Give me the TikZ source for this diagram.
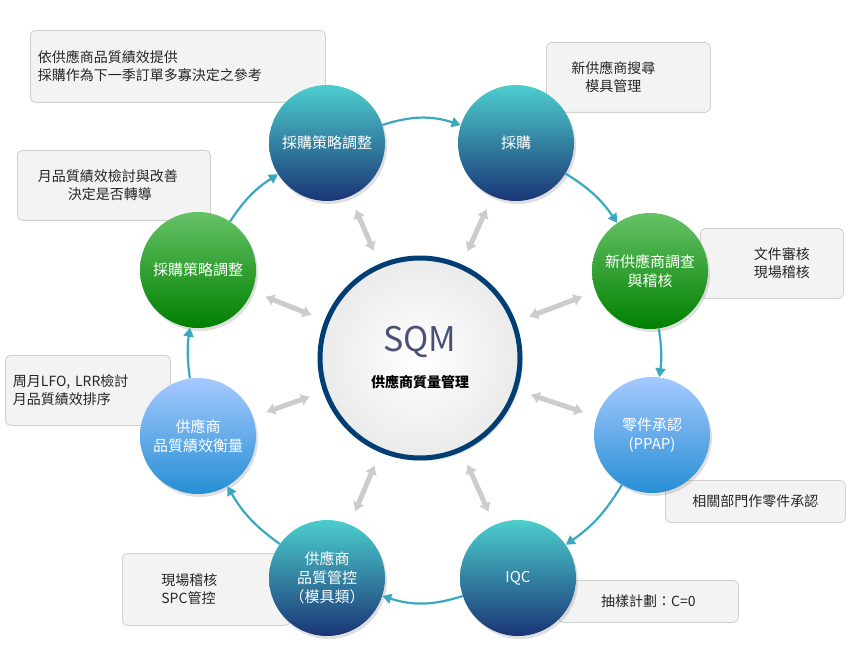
\documentclass[tikz,border=0pt]{standalone}
\usepackage{fontspec}
\setmainfont{Noto Sans CJK TC}
\usetikzlibrary{arrows.meta,shadows}
\definecolor{ringc}{HTML}{3AA8C1}
\definecolor{boxf}{HTML}{F3F3F3}
\definecolor{boxd}{HTML}{D0D0D0}
\tikzset{
 box/.style={draw=boxd,fill=boxf,rounded corners=5pt,line width=0.8pt,align=center,font=\fontsize{14}{18}\selectfont,text=black!85},
 ball/.style={circle,minimum size=116pt,inner sep=0pt,align=center,text=white,font=\fontsize{15}{19}\selectfont,drop shadow={opacity=0.25,shadow xshift=2pt,shadow yshift=-3pt}},
 teal/.style={ball,top color=cyan!45!teal!70,bottom color=cyan!30!blue!40!black!90},
 green/.style={ball,top color=green!60!black!60!white,bottom color=green!50!black},
 blue/.style={ball,top color=cyan!40!blue!35!white,bottom color=blue!40!cyan!80!black!85},
 ring/.style={draw=ringc,line width=2.2pt,-{Triangle[length=9pt,width=10pt]}},
 gar/.style={draw=black!20,line width=5pt,{Latex[length=9pt,width=13pt]}-{Latex[length=9pt,width=13pt]},shorten <=14pt,shorten >=14pt}
}
\begin{document}
\begin{tikzpicture}[x=1pt,y=-1pt]
\useasboundingbox (0,0) rectangle (850,660);
% boxes
\node[box,minimum width=295pt,minimum height=72pt,anchor=north west,text width=280pt,align=left] (b1) at (30,30) {依供應商品質績效提供\\採購作為下一季訂單多寡決定之參考};
\node[box,minimum width=164pt,minimum height=70pt,anchor=north west] (b2) at (546,42) {\hspace{-30pt}新供應商搜尋\\\hspace{-30pt}模具管理};
\node[box,minimum width=193pt,minimum height=70pt,anchor=north west,text width=180pt,align=left] (b3) at (17,150) {\hspace{14pt}月品質績效檢討與改善\\\hspace{44pt}決定是否轉導};
\node[box,minimum width=143pt,minimum height=70pt,anchor=north west] (b4) at (700,228) {\hspace{20pt}文件審核\\\hspace{20pt}現場稽核};
\node[box,minimum width=165pt,minimum height=70pt,anchor=north west,text width=150pt,align=left] (b5) at (5,355) {周月LFO, LRR檢討\\月品質績效排序};
\node[box,minimum width=180pt,minimum height=42pt,anchor=north west] (b6) at (665,480) {相關部門作零件承認};
\node[box,minimum width=168pt,minimum height=72pt,anchor=north west,text width=150pt,align=left] (b7) at (122,553) {\hspace{30pt}現場稽核\\\hspace{30pt}SPC管控};
\node[box,minimum width=180pt,minimum height=42pt,anchor=north west] (b8) at (558,580) {抽樣計劃：C=0};
% center
\node[circle,minimum size=200pt,draw=teal!70!blue!70!black,line width=5pt,inner color=white,outer color=black!8,drop shadow={opacity=0.2,shadow yshift=-3pt}] (c) at (420,358) {};
\node[text=cyan!30!blue!50!black,font=\fontsize{34}{38}\selectfont] (t1) at (420,342) {SQM};
\node[text=black,font=\fontsize{14}{18}\selectfont\bfseries] (t2) at (420,382) {供應商質量管理};
% outer balls
\node[teal] (o1) at (327,143) {採購策略調整};
\node[teal] (o2) at (516,143) {採購};
\node[green] (o3) at (650,271) {新供應商調查\\與稽核};
\node[blue] (o4) at (652,435) {零件承認\\(PPAP)};
\node[teal] (o5) at (518,578) {IQC};
\node[teal] (o6) at (327,578) {供應商\\品質管控\\（模具類）};
\node[blue] (o7) at (198,436) {供應商\\品質績效衡量};
\node[green] (o8) at (198,270) {採購策略調整};
% ring arrows
\draw[ring] (o1) to[bend left=18] (o2);
\draw[ring] (o2) to[bend left=12] (o3);
\draw[ring] (o3) to[bend left=8] (o4);
\draw[ring] (o4) to[bend left=12] (o5);
\draw[ring] (o5) to[bend left=18] (o6);
\draw[ring] (o6) to[bend left=12] (o7);
\draw[ring] (o7) to[bend left=8] (o8);
\draw[ring] (o8) to[bend left=12] (o1);
% gray arrows
\foreach \o in {o1,o2,o3,o4,o5,o6,o7,o8} \draw[gar] (c) -- (\o);
\end{tikzpicture}
\end{document}
